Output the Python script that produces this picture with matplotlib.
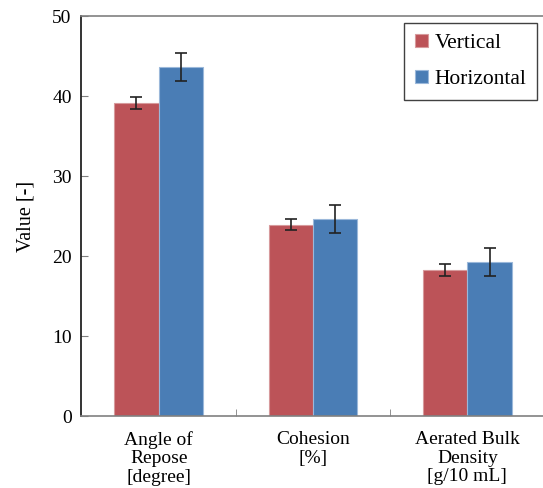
import numpy as np
import matplotlib
matplotlib.use("Agg")
import matplotlib.pyplot as plt

categories = ["Angle of\nRepose\n[degree]", "Cohesion\n[%]", "Aerated Bulk\nDensity\n[g/10 mL]"]
vertical = [39.1, 23.9, 18.2]
vertical_err = [0.75, 0.7, 0.75]
horizontal = [43.6, 24.6, 19.2]
horizontal_err = [1.75, 1.75, 1.75]

plt.rcParams['font.family'] = ['Liberation Serif', 'DejaVu Serif']

fig = plt.figure(figsize=(5.43, 4.88), dpi=100)
ax = fig.add_axes([0.15, 0.1475, 0.853, 0.8197])

x = np.arange(len(categories)) + 0.5
w = 0.287
red = '#BC5358'
blue = '#4A7DB5'
ekw = dict(ecolor='#222222', elinewidth=1.2, capsize=4.5, capthick=1.2)

ax.bar(x - w / 2, vertical, w, yerr=vertical_err, color=red, edgecolor='#D79A9C',
       linewidth=0.8, label='Vertical', error_kw=ekw)
ax.bar(x + w / 2, horizontal, w, yerr=horizontal_err, color=blue, edgecolor='#9BB8DA',
       linewidth=0.8, label='Horizontal', error_kw=ekw)

ax.set_xlim(0, 3)
ax.set_ylim(0, 50)
ax.set_yticks([0, 10, 20, 30, 40, 50])
ax.set_xticks(x)
ax.set_xticklabels(categories, fontsize=14, linespacing=1.1)
ax.set_xticks([1, 2, 3], minor=True)
ax.tick_params(axis='x', which='major', length=0, pad=11)
ax.tick_params(axis='x', which='minor', direction='in', length=5, color='#808080')
ax.tick_params(axis='y', direction='in', length=5, color='#808080', labelsize=14, pad=7)
ax.set_ylabel('Value [-]', fontsize=14.5, labelpad=12)

ax.spines['right'].set_visible(False)
ax.spines['top'].set_color('#808080')
ax.spines['bottom'].set_color('#808080')
ax.spines['left'].set_color('#111111')
for s in ax.spines.values():
    s.set_linewidth(1.2)

leg = ax.legend(loc='upper right', bbox_to_anchor=(0.989, 0.953), bbox_transform=fig.transFigure,
                fontsize=15.5, frameon=True, fancybox=False, handlelength=0.6, handleheight=0.55,
                handletextpad=0.3, labelspacing=0.8, borderpad=0.5, borderaxespad=0)
leg.get_frame().set_edgecolor('#111111')
leg.get_frame().set_linewidth(1.0)

fig.savefig('out.png', dpi=100)
